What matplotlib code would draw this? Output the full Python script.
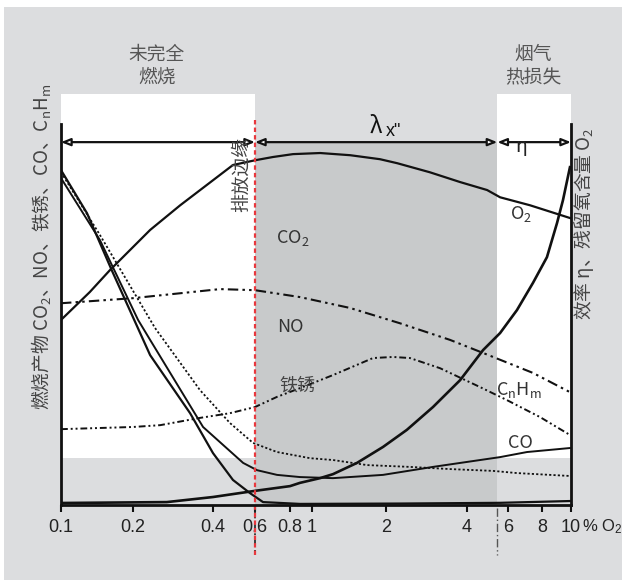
import matplotlib
matplotlib.use('Agg')
import numpy as np
import matplotlib.pyplot as plt
from matplotlib.patches import Rectangle
from matplotlib.ticker import FixedLocator, NullLocator, FixedFormatter

plt.rcParams['font.family'] = ['Noto Sans CJK SC', 'DejaVu Sans']
plt.rcParams['mathtext.fontset'] = 'custom'
plt.rcParams['mathtext.rm'] = 'Noto Sans CJK SC'
plt.rcParams['mathtext.default'] = 'regular'

# ---------------- data (x: residual O2 in %, y: relative level 0..100) ----------------
tick_vals = [0.1, 0.2, 0.4, 0.6, 0.8, 1, 2, 4, 6, 8, 10]
tick_labels = ['0.1', '0.2', '0.4', '0.6', '0.8', '1', '2', '4', '6', '8', '10']

edge_x = 0.6        # 排放边缘
loss_x = 5.4        # start of flue gas loss zone

eta_x = [0.1, 0.132, 0.16, 0.232, 0.301, 0.4, 0.485, 0.6, 0.695, 0.825, 1.08, 1.43, 1.89, 2.2, 2.91, 3.77, 4.88, 5.55, 7.23, 10]
eta_y = [51.0, 58.7, 64.7, 75.8, 82.6, 89.5, 93.7, 95.0, 95.9, 96.7, 97.0, 96.4, 95.3, 94.2, 91.7, 89.0, 86.8, 84.8, 82.6, 79.0]

o2_x = [0.1, 0.268, 0.4, 0.6, 0.8, 0.885, 1.078, 1.217, 1.524, 1.945, 2.39, 2.99, 3.77, 4.69, 5.55, 6.47, 7.41, 8.31, 8.98, 9.4, 9.92]
o2_y = [0.55, 0.8, 2.2, 3.9, 5.2, 6.1, 7.4, 8.5, 11.6, 16.0, 20.7, 27.0, 34.4, 42.7, 47.4, 53.7, 61.2, 68.3, 77.7, 84.0, 93.1]

steep_x = [0.1, 0.1285, 0.163, 0.232, 0.328, 0.4, 0.485, 0.571, 0.641, 0.885, 2.25, 5.55, 10]
steep_y = [92.3, 80.4, 64.7, 41.3, 25.3, 14.3, 6.9, 3.3, 0.8, 0.3, 0.4, 0.6, 1.1]

co_x = [0.1, 0.1455, 0.209, 0.232, 0.367, 0.535, 0.61, 0.719, 0.885, 1.217, 1.945, 2.99, 5.55, 7.05, 9.92]
co_y = [90.1, 73.0, 51.0, 45.5, 21.5, 11.6, 9.6, 8.3, 7.7, 7.4, 8.3, 10.5, 13.2, 14.6, 15.7]

cnhm_x = [0.1, 0.1455, 0.242, 0.357, 0.471, 0.589, 0.719, 0.98, 1.217, 1.674, 2.455, 3.46, 5.17, 6.47, 9.92]
cnhm_y = [91.7, 74.4, 48.8, 31.7, 22.6, 17.1, 14.6, 12.9, 12.4, 11.0, 10.5, 9.9, 9.4, 8.8, 8.0]

no_x = [0.1, 0.2, 0.428, 0.6, 0.885, 1.428, 2.25, 3.46, 4.69, 7.41, 9.92]
no_y = [55.6, 57.0, 59.5, 59.2, 57.3, 54.3, 50.1, 45.5, 41.9, 36.4, 31.1]

rust_x = [0.1, 0.2, 0.253, 0.357, 0.471, 0.6, 0.719, 0.885, 1.217, 1.771, 2.123, 2.455, 3.176, 4.55, 5.94, 7.88, 9.92]
rust_y = [20.9, 21.5, 22.0, 24.0, 25.3, 27.0, 29.8, 32.2, 35.8, 40.5, 40.8, 40.5, 37.7, 32.5, 28.9, 24.2, 19.3]

# The printed axis is a hand-drawn, slightly uneven logarithmic scale:
# relative positions of the tick marks along the axis (0 = 0.1, 1 = 10).
AXIS_TICK_POS = np.array([0, 72, 152, 194, 229, 251, 325, 406, 447, 481, 510]) / 510.0
AXIS_TICK_LOG = np.log10(np.array(tick_vals))

def _fwd(x):
    x = np.asarray(x, dtype=float)
    lx = np.log10(np.where(x > 0, x, 1e-12))
    return np.interp(lx, AXIS_TICK_LOG, AXIS_TICK_POS)

def _inv(p):
    p = np.asarray(p, dtype=float)
    return 10 ** np.interp(p, AXIS_TICK_POS, AXIS_TICK_LOG)

# ---------------- figure ----------------
W, H = 622, 580
fig = plt.figure(figsize=(W / 100, H / 100), dpi=100)
fig.patch.set_facecolor('white')
fig.patches.append(Rectangle((4 / W, 0), 1 - 4 / W, 1 - 7 / H, transform=fig.transFigure,
                             facecolor='#dcdddf', edgecolor='none', zorder=-10))

ax = fig.add_axes([61 / W, 75 / H, 510 / W, 381 / H])
ax.set_facecolor('none')
ax.set_xscale('function', functions=(_fwd, _inv))
ax.set_xlim(0.1, 10)
ax.set_ylim(0, 105)

def ax_frac(ypx):
    return (505 - ypx) / 381.0

# zones
ax.axvspan(0.1, edge_x, ymin=ax_frac(458), ymax=ax_frac(94), facecolor='white', edgecolor='none', zorder=0, clip_on=False)
ax.axvspan(loss_x, 10, ymin=ax_frac(458), ymax=ax_frac(94), facecolor='white', edgecolor='none', zorder=0, clip_on=False)
ax.axvspan(edge_x, loss_x, ymin=0, ymax=ax_frac(142), facecolor='#c8cacb', edgecolor='none', zorder=0.5)

# curves
ax.plot(eta_x, eta_y, color='#111111', lw=1.6, zorder=3)
ax.plot(o2_x, o2_y, color='#111111', lw=1.9, zorder=3)
ax.plot(steep_x, steep_y, color='#111111', lw=1.6, zorder=3)
ax.plot(co_x, co_y, color='#111111', lw=1.4, zorder=3)
ax.plot(cnhm_x, cnhm_y, color='#111111', lw=1.3, ls=(0, (1.2, 1.2)), zorder=3)
ax.plot(no_x, no_y, color='#111111', lw=1.5, ls=(0, (5, 2, 1.2, 2, 1.2, 2)), zorder=3)
ax.plot(rust_x, rust_y, color='#111111', lw=1.4, ls=(0, (3.5, 1.5, 1, 1.5, 1, 1.5)), zorder=3)

# vertical markers
ax.plot([edge_x, edge_x], [ax_frac(505), ax_frac(555)], transform=ax.get_xaxis_transform(),
        color='#222222', lw=1.2, ls=(0, (5, 2, 1, 2)), clip_on=False, zorder=4)
ax.plot([edge_x, edge_x], [ax_frac(120), ax_frac(555)], transform=ax.get_xaxis_transform(),
        color='#e8383d', lw=1.6, ls=(0, (2, 1.4)), clip_on=False, zorder=5)
ax.plot([loss_x, loss_x], [ax_frac(508), ax_frac(555)], transform=ax.get_xaxis_transform(),
        color='#555555', lw=1.0, ls=(0, (6, 2, 1, 2)), clip_on=False, zorder=4)

# arrows along top
for a, b in [(0.1, edge_x), (edge_x, loss_x), (loss_x, 10)]:
    ax.annotate('', xy=(b, 100), xytext=(a, 100),
                arrowprops=dict(arrowstyle='<|-|>,head_length=0.55,head_width=0.22', lw=1.6,
                                ec='#111111', fc='white', shrinkA=0, shrinkB=0),
                annotation_clip=False, zorder=6)

# axes styling
for s in ['left', 'right', 'bottom']:
    ax.spines[s].set_linewidth(2.0)
    ax.spines[s].set_color('#111111')
    ax.spines[s].set_zorder(7)
ax.spines['top'].set_visible(False)
ax.set_yticks([])
ax.xaxis.set_major_locator(FixedLocator(tick_vals))
ax.xaxis.set_major_formatter(FixedFormatter(tick_labels))
ax.xaxis.set_minor_locator(NullLocator())
ax.tick_params(axis='x', direction='out', length=5, width=1.5, color='#111111', pad=5,
               labelsize=13, labelcolor='#222222')
for lab in ax.get_xticklabels():
    lab.set_fontfamily('Liberation Sans')

def T(xp, yp, s, **kw):
    fig.text(xp / W, 1 - yp / H, s, **kw)

T(582, 531, '% O$_2$', ha='left', va='baseline', fontsize=12, color='#222222', family='Liberation Sans')

# titles
T(157, 66, '未完全\n燃烧', ha='center', va='center', fontsize=13.5, color='#555555', linespacing=1.15)
T(533, 66, '烟气\n热损失', ha='center', va='center', fontsize=13.5, color='#555555', linespacing=1.15)

# axis labels
T(42, 247, '燃烧产物 CO$_2$、NO、铁锈、CO、C$_n$H$_m$', ha='center', va='center', rotation=90,
  fontsize=13.5, color='#444444')
T(584, 224, '效率 η、残留氧含量 O$_2$', ha='center', va='center', rotation=90,
  fontsize=13.5, color='#444444')

# curve labels
T(241, 174, '排放边缘', ha='center', va='center', rotation=90, fontsize=13.5, color='#444444')
T(293, 238, 'CO$_2$', ha='center', va='center', fontsize=13, color='#333333')
T(290, 327, 'NO', ha='center', va='center', fontsize=13, color='#333333')
T(297, 386, '铁锈', ha='center', va='center', fontsize=13, color='#444444')
T(521, 214, 'O$_2$', ha='center', va='center', fontsize=13, color='#333333')
T(519, 390, 'C$_n$H$_m$', ha='center', va='center', fontsize=13, color='#333333')
T(520, 443, 'CO', ha='center', va='center', fontsize=13, color='#333333')
T(376, 126, 'λ', ha='center', va='center', fontsize=16, color='#111111')
T(393, 132, 'x"', ha='center', va='center', fontsize=13, color='#111111', family='Liberation Sans')
T(521, 147, 'η', ha='center', va='center', fontsize=14, color='#222222')

fig.savefig('out.png', dpi=100)
